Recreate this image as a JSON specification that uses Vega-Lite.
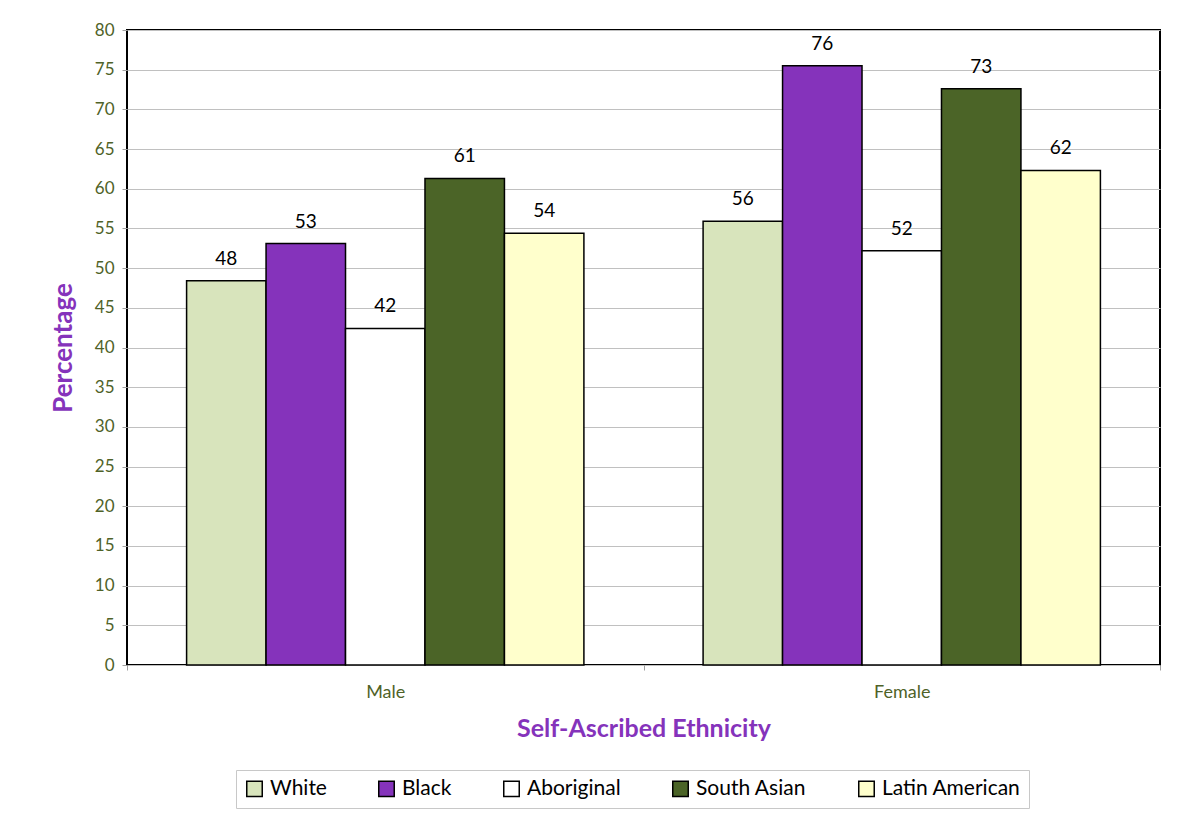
{
  "$schema": "https://vega.github.io/schema/vega-lite/v6.json",
  "autosize": {"type": "none"},
  "width": 1033,
  "height": 635,
  "padding": {"left": 127, "top": 30, "right": 40, "bottom": 157},
  "background": "white",
  "data": {
    "values": [
      {"sex": "Male", "ethnicity": "White", "value": 48.4},
      {"sex": "Male", "ethnicity": "Black", "value": 53.1},
      {"sex": "Male", "ethnicity": "Aboriginal", "value": 42.4},
      {"sex": "Male", "ethnicity": "South Asian", "value": 61.3},
      {"sex": "Male", "ethnicity": "Latin American", "value": 54.4},
      {"sex": "Female", "ethnicity": "White", "value": 55.9},
      {"sex": "Female", "ethnicity": "Black", "value": 75.5},
      {"sex": "Female", "ethnicity": "Aboriginal", "value": 52.2},
      {"sex": "Female", "ethnicity": "South Asian", "value": 72.6},
      {"sex": "Female", "ethnicity": "Latin American", "value": 62.3}
    ]
  },
  "encoding": {
    "x": {
      "field": "sex",
      "type": "nominal",
      "sort": ["Male", "Female"],
      "scale": {"paddingInner": 0, "paddingOuter": 0},
      "axis": {
        "title": "Self-Ascribed Ethnicity",
        "labelAngle": 0,
        "labelFont": "Lato",
        "labelFontSize": 18,
        "labelColor": "#4f6228",
        "labelPadding": 13,
        "tickBand": "extent",
        "tickSize": 5,
        "tickColor": "#a0a0a0",
        "domain": false,
        "titleFont": "Lato",
        "titleFontSize": 25,
        "titleFontWeight": "bold",
        "titleColor": "#8533bb",
        "titlePadding": 15
      }
    },
    "xOffset": {
      "field": "ethnicity",
      "type": "nominal",
      "sort": ["White", "Black", "Aboriginal", "South Asian", "Latin American"],
      "scale": {"paddingInner": 0, "paddingOuter": 0.75}
    },
    "y": {
      "field": "value",
      "type": "quantitative",
      "scale": {"domain": [0, 80], "nice": false},
      "axis": {
        "title": "Percentage",
        "values": [0, 5, 10, 15, 20, 25, 30, 35, 40, 45, 50, 55, 60, 65, 70, 75, 80],
        "labelFont": "Lato",
        "labelFontSize": 17,
        "labelColor": "#4f6228",
        "labelPadding": 8,
        "tickSize": 5,
        "tickColor": "#a0a0a0",
        "domain": false,
        "grid": true,
        "gridColor": "#c0c0c0",
        "gridWidth": 1,
        "titleFont": "Lato",
        "titleFontSize": 26,
        "titleFontWeight": "bold",
        "titleColor": "#8533bb",
        "titlePadding": 18
      }
    }
  },
  "layer": [
    {
      "mark": {"type": "bar", "stroke": "black", "strokeWidth": 1.5},
      "encoding": {
        "color": {
          "field": "ethnicity",
          "type": "nominal",
          "scale": {
            "domain": ["White", "Black", "Aboriginal", "South Asian", "Latin American"],
            "range": ["#d8e4bc", "#8533bb", "#ffffff", "#4b6427", "#ffffcc"]
          },
          "legend": {
            "title": null,
            "orient": "none",
            "direction": "horizontal",
            "legendX": 109,
            "legendY": 740,
            "symbolType": "square",
            "symbolSize": 240,
            "symbolStrokeColor": "black",
            "symbolStrokeWidth": 1.5,
            "symbolOpacity": 1,
            "labelFont": "Lato",
            "labelFontSize": 21,
            "labelColor": "black",
            "labelOffset": 5,
            "columnPadding": 48,
            "strokeColor": "#c8c8c8",
            "padding": 8
          }
        }
      }
    },
    {
      "mark": {"type": "text", "baseline": "middle", "dy": -22, "font": "Lato", "fontSize": 19, "color": "black"},
      "encoding": {
        "text": {"field": "value", "type": "quantitative", "format": ".0f"}
      }
    }
  ],
  "config": {
    "view": {"stroke": "black", "strokeWidth": 2},
    "legend": {"labelLimit": 300}
  }
}
